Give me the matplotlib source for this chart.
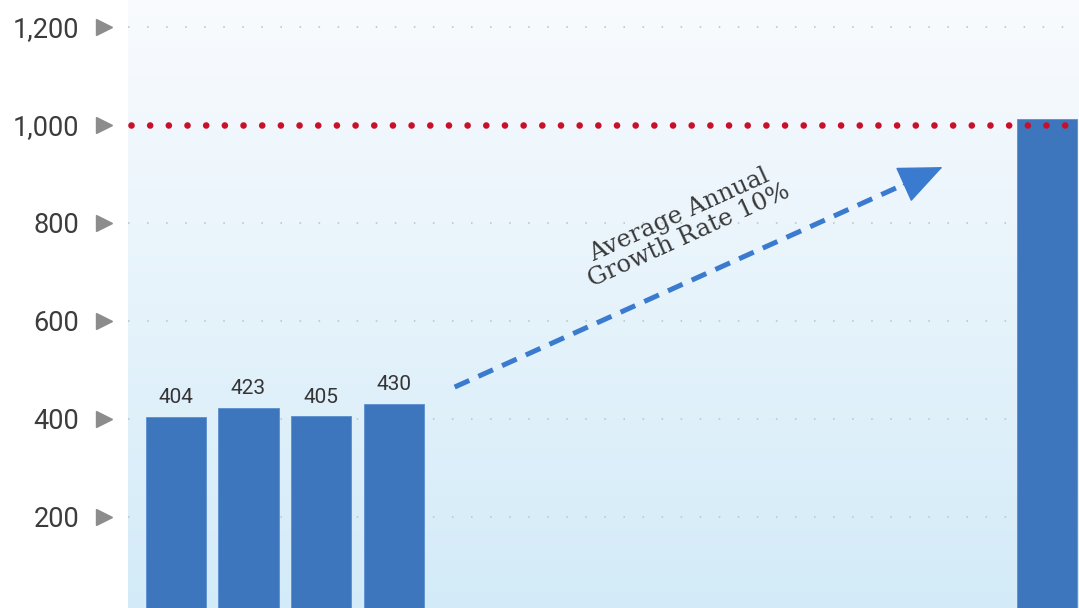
import numpy as np
import matplotlib
matplotlib.use("Agg")
import matplotlib.pyplot as plt
from matplotlib.transforms import blended_transform_factory

plt.rcParams['font.family'] = ['Roboto', 'DejaVu Sans']

# bar slots (13 positions, only the first four and the last are filled)
bar_pos = [0, 1, 2, 3, 12]
bar_vals = [404, 423, 405, 430, 1012]
labelled = [True, True, True, True, False]

target = 1000
yticks = [200, 400, 600, 800, 1000, 1200]
ytick_labels = ['200', '400', '600', '800', '1,000', '1,200']

arrow_from = (3.84, 465)
arrow_mid = (10.02, 878)
arrow_to = (10.56, 914)
note = 'Average Annual\nGrowth Rate 10%'

W, H = 1079, 608
fig = plt.figure(figsize=(W / 100, H / 100), dpi=100)
ax = fig.add_axes([128 / W, 0, 1 - 128 / W, 1])

xlim = (-0.66, 12.44)
ylim = (14, 1255)
ax.set_xlim(*xlim)
ax.set_ylim(*ylim)

# soft vertical gradient behind the plot
top = np.array([249, 251, 254]) / 255
bot = np.array([211, 235, 248]) / 255
t = np.linspace(0, 1, 256)[:, None]
grad = (top * (1 - t) + bot * t)[:, None, :].repeat(2, axis=1)
ax.imshow(grad, extent=[xlim[0], xlim[1], ylim[0], ylim[1]], aspect='auto',
          zorder=0, interpolation='bicubic')

for y in yticks:
    if y != target:
        ax.axhline(y, color='#c5cbd1', lw=1.4, ls=(0, (0.8, 9)), zorder=1)

ax.bar(bar_pos, bar_vals, width=0.83, color='#3d76bd', edgecolor='#5a8fd0',
       linewidth=0.6, zorder=2)

for x, v, show in zip(bar_pos, bar_vals, labelled):
    if show:
        ax.annotate(str(v), (x, v), xytext=(0, 7), textcoords='offset points',
                    ha='center', va='bottom', fontsize=15, color='#353535')

tgt, = ax.plot([xlim[0] + 0.04, xlim[1]], [target, target], color='#c8102a',
               lw=4.8, ls=(0, (0.001, 2.8)), zorder=3)
tgt.set_dash_capstyle('round')

# growth arrow: dashed shaft plus a solid head
shaft, = ax.plot([arrow_from[0], arrow_mid[0]], [arrow_from[1], arrow_mid[1]],
                 color='#3a7bd0', lw=3.6, ls=(0, (3.2, 2.0)), zorder=4)
ax.annotate('', xy=arrow_to, xytext=arrow_mid,
            arrowprops=dict(arrowstyle='-|>,head_length=2.9,head_width=1.25',
                            color='#3a7bd0', lw=1, shrinkA=0, shrinkB=0),
            zorder=4)
ax.text(7.0, 795, note, rotation=24.5, rotation_mode='anchor', ha='center',
        va='center', fontsize=17.5, color='#383838', family='DejaVu Serif',
        linespacing=1.0)

ax.set_yticks(yticks)
ax.set_yticklabels(ytick_labels)
ax.tick_params(axis='y', length=0, pad=35, labelsize=19.5, labelcolor='#3c3c3c')
ax.set_xticks([])
for s in ax.spines.values():
    s.set_visible(False)

# grey pointer triangles next to the tick labels
tr = blended_transform_factory(fig.transFigure, ax.transData)
ax.plot([104 / W] * len(yticks), yticks, '>', color='#8c8c8c', ms=12,
        transform=tr, clip_on=False, zorder=5)

fig.savefig('out.png', dpi=100)
